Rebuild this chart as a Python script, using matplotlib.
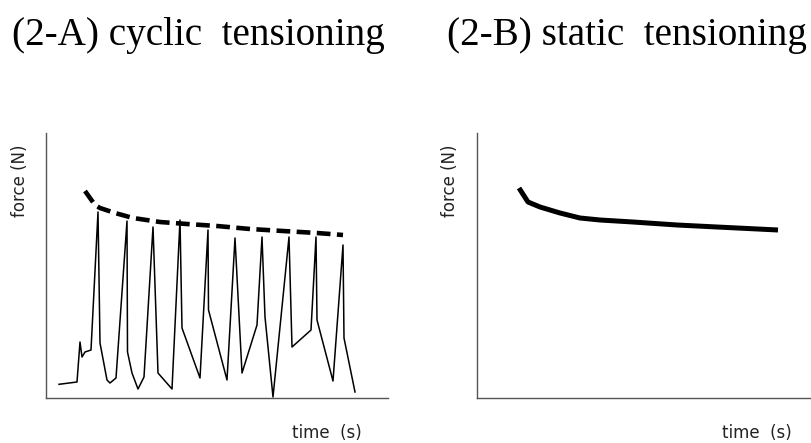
import matplotlib.pyplot as plt

# cyclic tensioning trace (arbitrary units)
cyc_time = [13, 31, 34, 36, 39, 45, 52, 54, 61, 64, 70, 81, 81.5, 86, 92, 98,
             107, 112, 126, 134, 136, 154, 162, 162.5, 181, 189, 196, 211, 216,
             219, 227, 243, 246, 265, 270, 271, 287, 297, 298, 309]
cyc_force = [13.7, 16, 56, 41, 46, 48, 186, 55, 18, 15, 20, 177, 46, 25, 9, 21,
             171, 25, 9, 178, 70, 20, 168, 88, 18, 160, 25, 73, 161,
             81, 1, 161, 51, 68, 161, 78, 17, 153, 60, 6]

# dashed peak envelope
env_time = [39, 49, 54, 69, 87, 114, 141, 171, 204, 237, 271, 297]
env_force = [207, 193, 190, 185, 180, 176, 174, 172, 169, 167, 165, 163]

# static tensioning curve
sta_time = [42, 51, 63, 83, 103, 123, 156, 200, 240, 301]
sta_force = [210, 196, 191, 185, 180, 178, 176, 173, 171, 168]

fig = plt.figure(figsize=(8.12, 4.43), dpi=100)

axA = fig.add_axes([46 / 812, 45 / 443, 342 / 812, 265 / 443])
axB = fig.add_axes([477 / 812, 45 / 443, 335 / 812, 265 / 443])

axA.plot(cyc_time, cyc_force, color='black', lw=1.1)
axA.plot(env_time, env_force, color='black', lw=3.3, linestyle=(0, (3, 1.4)))
axA.set_xlim(0, 342)

axB.plot(sta_time, sta_force, color='black', lw=3.6, solid_capstyle='butt')
axB.set_xlim(0, 335)

for ax in (axA, axB):
    ax.set_ylim(0, 265)
    ax.set_xticks([])
    ax.set_yticks([])
    ax.spines['top'].set_visible(False)
    ax.spines['right'].set_visible(False)
    for s in ('left', 'bottom'):
        ax.spines[s].set_color('#555555')
        ax.spines[s].set_linewidth(1.0)

# titles
fig.text(12 / 812, 1 - 45 / 443, '(2-A) cyclic  tensioning', family='Liberation Serif',
         fontsize=28.2, ha='left', va='baseline')
fig.text(447 / 812, 1 - 45 / 443, '(2-B) static  tensioning', family='Liberation Serif',
         fontsize=28.2, ha='left', va='baseline')

# axis labels
fig.text(20 / 812, 1 - 181 / 443, 'force (N)', rotation=90, fontsize=12,
         ha='center', va='center', color='#222222')
fig.text(450 / 812, 1 - 181 / 443, 'force (N)', rotation=90, fontsize=12,
         ha='center', va='center', color='#222222')
fig.text(327 / 812, 1 - 433 / 443, 'time  (s)', fontsize=12,
         ha='center', va='center', color='#222222')
fig.text(757 / 812, 1 - 433 / 443, 'time  (s)', fontsize=12,
         ha='center', va='center', color='#222222')

plt.savefig('out.png', dpi=100)
